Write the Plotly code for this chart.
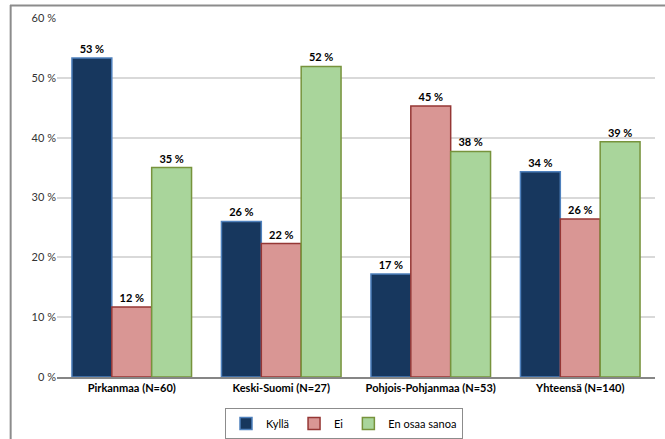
import plotly.graph_objects as go

# Survey answers by region, in percent
categories = ["Pirkanmaa (N=60)", "Keski-Suomi (N=27)", "Pohjois-Pohjanmaa (N=53)", "Yhteensä (N=140)"]
kylla = [53.3, 26.0, 17.2, 34.3]
ei = [11.7, 22.3, 45.3, 26.4]
en_osaa = [35.0, 51.9, 37.7, 39.3]
y_ticks = [0, 10, 20, 30, 40, 50, 60]
y_tick_labels = [f"{v} %" for v in y_ticks]

W, H = 665, 439
# page area inside the chart frame
ML, MT = 10, 5
area_w, area_h = W - ML, H - MT
# plot rectangle in page pixels
PX0, PX1, PY0, PY1 = 57, 655, 18, 377

series = [
    ("Kyllä", kylla, "#17375E", "#4F81BD"),
    ("Ei", ei, "#D99694", "#953735"),
    ("En osaa sanoa", en_osaa, "#A9D59B", "#77933C"),
]

fig = go.Figure()
for name, vals, fill, edge in series:
    fig.add_trace(go.Bar(
        name=name, x=categories, y=vals,
        marker=dict(color=fill, line=dict(color=edge, width=1.5)),
        texttemplate="<b>%{y:.0f} %</b>", textposition="outside",
        textfont=dict(family="Lato", size=11, color="#000000"),
        cliponaxis=False,
    ))

# chart frame: left and top edges
frame = dict(color="#8C8C8C", width=2)
fig.add_shape(type="line", xref="paper", yref="paper",
              x0=0.001, x1=0.001, y0=0, y1=1, line=frame)
fig.add_shape(type="line", xref="paper", yref="paper",
              x0=0, x1=1, y0=0.999, y1=0.999, line=frame)

fig.update_layout(
    width=W, height=H,
    margin=dict(l=ML, r=0, t=MT, b=0, pad=0, autoexpand=False),
    paper_bgcolor="white", plot_bgcolor="white",
    barmode="group", bargap=0.2, bargroupgap=0,
    font=dict(family="Lato", size=11, color="#333333"),
    showlegend=True,
    legend=dict(
        orientation="h", xref="container", yref="container",
        x=344 / W, xanchor="center", y=1 - 408 / H, yanchor="top",
        bordercolor="#8C8C8C", borderwidth=1,
        font=dict(family="Lato", size=11, color="#000000"),
        itemwidth=30, tracegroupgap=0,
    ),
    xaxis=dict(
        domain=[(PX0 - ML) / area_w, (PX1 - ML) / area_w],
        showline=True, linecolor="#868686", linewidth=1.5,
        ticks="", tickfont=dict(family="Lato", size=11, color="#000000"),
        tickprefix="<b>", ticksuffix="</b>",
    ),
    yaxis=dict(
        domain=[(H - PY1) / area_h, (H - PY0) / area_h],
        range=[0, 60], tickmode="array", tickvals=y_ticks, ticktext=y_tick_labels,
        showgrid=True, gridcolor="#D9D9D9", gridwidth=1.5,
        zeroline=False, showline=False, ticks="",
        tickfont=dict(family="Lato", size=11, color="#333333"),
    ),
)

fig.write_html("out.html")
